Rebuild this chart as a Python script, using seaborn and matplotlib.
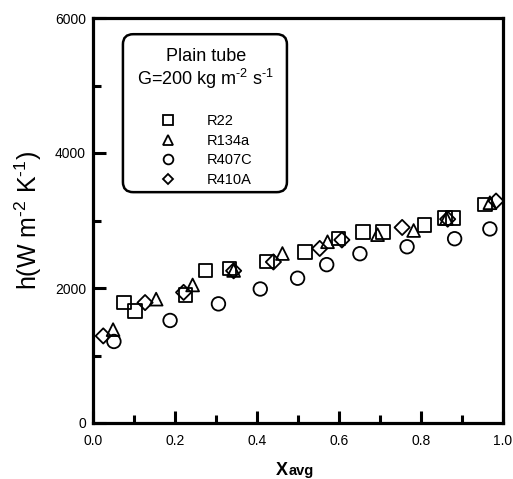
import matplotlib
matplotlib.use("Agg")
import matplotlib.pyplot as plt
import seaborn as sns
import pandas as pd
from matplotlib.patches import FancyBboxPatch
from matplotlib.lines import Line2D
from matplotlib.ticker import MultipleLocator

# ---- data ----
r22_x = [0.076, 0.102, 0.226, 0.274, 0.333, 0.425, 0.517, 0.599, 0.659, 0.707, 0.809, 0.858, 0.878, 0.956]
r22_y = [1784, 1660, 1895, 2260, 2286, 2396, 2537, 2730, 2827, 2827, 2937, 3040, 3040, 3238]
r134a_x = [0.049, 0.154, 0.243, 0.343, 0.462, 0.572, 0.694, 0.782, 0.862, 0.968]
r134a_y = [1383, 1835, 2045, 2260, 2511, 2685, 2790, 2852, 3030, 3263]
r407c_x = [0.051, 0.188, 0.306, 0.408, 0.499, 0.570, 0.651, 0.766, 0.882, 0.968]
r407c_y = [1208, 1519, 1765, 1985, 2145, 2346, 2508, 2611, 2730, 2875]
r410a_x = [0.025, 0.127, 0.221, 0.343, 0.440, 0.553, 0.607, 0.754, 0.865, 0.983]
r410a_y = [1290, 1784, 1935, 2255, 2386, 2586, 2712, 2897, 3020, 3288]

labels = ["R22", "R134a", "R407C", "R410A"]
xs = [r22_x, r134a_x, r407c_x, r410a_x]
ys = [r22_y, r134a_y, r407c_y, r410a_y]
markers = ["s", "^", "o", "D"]
sizes = [95, 85, 95, 60]

legend_title1 = "Plain tube"
legend_title2 = "G=200 kg m$^{\u2010 2}$ s$^{\u2010 1}$"
x_ticks = [0.0, 0.2, 0.4, 0.6, 0.8, 1.0]
y_ticks = [0, 2000, 4000, 6000]

sns.set_theme(style="ticks")
plt.rcParams["font.family"] = ["Liberation Sans", "DejaVu Sans"]
plt.rcParams["mathtext.fontset"] = "custom"
plt.rcParams["mathtext.rm"] = "Liberation Sans"
plt.rcParams["mathtext.it"] = "Liberation Sans"
plt.rcParams["mathtext.bf"] = "Liberation Sans:bold"
plt.rcParams["text.color"] = "black"
plt.rcParams["axes.labelcolor"] = "black"
plt.rcParams["xtick.color"] = "black"
plt.rcParams["ytick.color"] = "black"

fig = plt.figure(figsize=(5.13, 4.79), dpi=100)
ax = fig.add_axes([93/513, 1-423/479, 410/513, 405/479])

frames = []
for lab, x, y in zip(labels, xs, ys):
    frames.append(pd.DataFrame({"x": x, "y": y, "ref": lab}))
df = pd.concat(frames, ignore_index=True)

for lab, m, s in zip(labels, markers, sizes):
    sub = df[df["ref"] == lab]
    sns.scatterplot(data=sub, x="x", y="y", marker=m, s=s, facecolor="none",
                    edgecolor="black", linewidth=1.3, ax=ax, legend=False, zorder=3)

ax.set_xlim(0, 1.0)
ax.set_ylim(0, 6000)
ax.set_xticks(x_ticks)
ax.set_xticklabels([f"{v:.1f}" for v in x_ticks])
ax.set_yticks(y_ticks)
ax.set_yticklabels([str(v) for v in y_ticks])
ax.xaxis.set_minor_locator(MultipleLocator(0.1))
ax.yaxis.set_minor_locator(MultipleLocator(1000))
ax.tick_params(which="both", direction="in", width=2.2, color="black",
               labelsize=10, labelcolor="black", top=False, right=False)
ax.tick_params(which="major", length=9)
ax.tick_params(axis="x", which="major", pad=8)
ax.tick_params(axis="y", which="major", pad=5)
ax.tick_params(which="minor", length=5.5)
for sp in ax.spines.values():
    sp.set_linewidth(2.3)
    sp.set_color("black")
    sp.set_visible(True)

ax.set_xlabel("")
ax.set_ylabel("h(W m$^{\u2010 2}$ K$^{\u2010 1}$)", fontsize=18, labelpad=8, color="black")
ax.text(0.476, -0.128, "X", transform=ax.transAxes, ha="right", va="baseline",
        fontsize=13, fontweight="bold", color="black")
ax.text(0.476, -0.128, "avg", transform=ax.transAxes, ha="left", va="baseline",
        fontsize=10.5, fontweight="bold", color="black")

# legend box
box = FancyBboxPatch((0.073, 0.570), 0.400, 0.390, transform=ax.transAxes,
                     boxstyle="round,pad=0,rounding_size=0.025",
                     facecolor="white", edgecolor="black", linewidth=1.8, zorder=4)
ax.add_patch(box)
ax.text(0.275, 0.904, legend_title1, transform=ax.transAxes, ha="center", va="center",
        fontsize=13, zorder=5, color="black")
ax.text(0.275, 0.850, legend_title2, transform=ax.transAxes, ha="center", va="center",
        fontsize=13, zorder=5, color="black")
handles = [Line2D([], [], marker=m, linestyle="none", markerfacecolor="none",
                  markeredgecolor="black", markersize=ms, markeredgewidth=1.3)
           for m, ms in zip(markers, [7, 7, 7, 5.5])]
leg = ax.legend(handles, labels, loc="upper left", bbox_to_anchor=(0.147, 0.78),
                frameon=False, fontsize=10.5, handletextpad=2.2, labelspacing=0.38,
                borderpad=0, handlelength=1.0)
for t in leg.get_texts():
    t.set_color("black")
leg.set_zorder(6)

fig.savefig("out.png", dpi=100)
